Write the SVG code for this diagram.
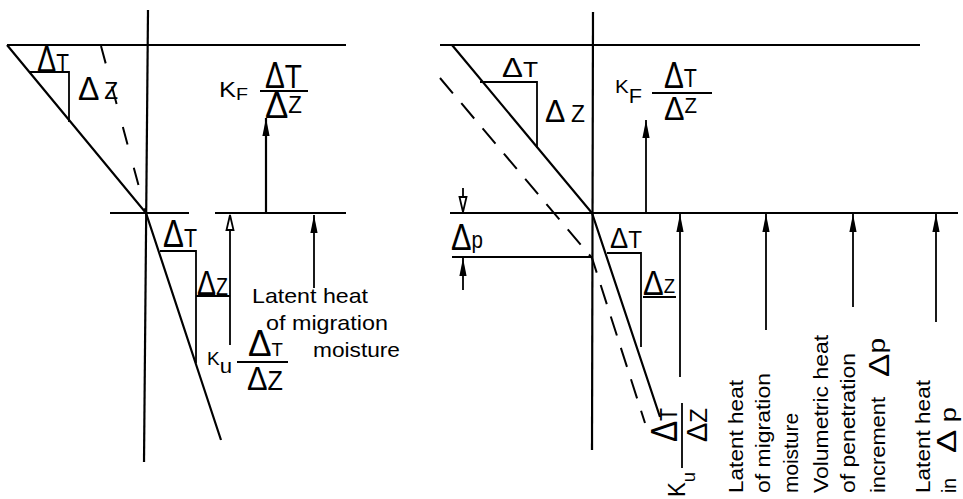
<svg xmlns="http://www.w3.org/2000/svg" width="963" height="499" viewBox="0 0 963 499">
<style>
.ln{stroke:#000;stroke-width:2.2;fill:none;stroke-linecap:butt}
.th{stroke:#000;stroke-width:1.8;fill:none}
.ds{stroke:#000;stroke-width:2;fill:none;stroke-dasharray:20 13}
.dsl{stroke:#000;stroke-width:2;fill:none;stroke-dasharray:18 24}
text{font-family:"Liberation Sans",Arial,sans-serif;fill:#000}
.lb{font-size:21px}
</style>
<defs>
<marker id="af" viewBox="-20 -4 20 8" refX="0" refY="0" markerWidth="20" markerHeight="8" orient="auto" markerUnits="userSpaceOnUse"><path d="M0,0 L-18,-3.6 L-18,3.6 Z" fill="#000"/></marker>
<marker id="ao" viewBox="-20 -5 21 10" refX="0" refY="0" markerWidth="21" markerHeight="10" orient="auto" markerUnits="userSpaceOnUse"><path d="M0,0 L-15,-3.5 L-15,3.5 Z" fill="#fff" stroke="#000" stroke-width="1.8"/></marker>
</defs>
<rect width="963" height="499" fill="#fff"/>

<g id="left-diagram">
  <g id="left-lines">
    <path class="ln" d="M7,45 H346"/>
    <path class="ln" d="M148,10 L144,462"/>
    <path class="ln" d="M7,45 L146,213 L221,440"/>
    <path class="th" d="M30,72 H69 V122"/>
    <path class="dsl" d="M101,46 L146,213"/>
    <path class="ln" d="M110,213 H189 M215,213 H346"/>
    <path class="th" d="M160,251 H196 V363"/>
    <path class="th" d="M196,296 H230"/>
    <path class="th" d="M237,362 H288"/>
    <path class="th" d="M260,91 H308"/>
  </g>
  <g id="left-arrows">
    <path class="ln" d="M266,213 V118" marker-end="url(#af)"/>
    <path class="th" d="M230,345 V215" marker-end="url(#ao)"/>
    <path class="th" d="M314,288 V215" marker-end="url(#af)"/>
  </g>
  <g id="left-labels">
    <text x="37" y="72" textLength="32" lengthAdjust="spacingAndGlyphs"><tspan font-size="36">Δ</tspan><tspan font-size="26">T</tspan></text>
    <text x="78" y="100" textLength="40" lengthAdjust="spacingAndGlyphs"><tspan font-size="34">Δ</tspan><tspan font-size="24" dx="5" dy="-1">Z</tspan></text>

    <text x="219" y="97" textLength="29" lengthAdjust="spacingAndGlyphs"><tspan font-size="22">K</tspan><tspan font-size="17" dy="3">F</tspan></text>
    <text x="265" y="88" textLength="37" lengthAdjust="spacingAndGlyphs"><tspan font-size="36">Δ</tspan><tspan font-size="34">T</tspan></text>
    <text x="265" y="118" textLength="37" lengthAdjust="spacingAndGlyphs"><tspan font-size="36">Δ</tspan><tspan font-size="23" dy="-5">Z</tspan></text>

    <text x="163" y="247" textLength="34" lengthAdjust="spacingAndGlyphs"><tspan font-size="38">Δ</tspan><tspan font-size="26">T</tspan></text>
    <text x="197" y="295" textLength="31" lengthAdjust="spacingAndGlyphs"><tspan font-size="35">Δ</tspan><tspan font-size="24">Z</tspan></text>

    <text x="207" y="365" textLength="25" lengthAdjust="spacingAndGlyphs"><tspan font-size="18">K</tspan><tspan font-size="21" dy="8">u</tspan></text>
    <text x="248" y="356" textLength="35" lengthAdjust="spacingAndGlyphs"><tspan font-size="36">Δ</tspan><tspan font-size="19">T</tspan></text>
    <text x="247" y="390" textLength="36" lengthAdjust="spacingAndGlyphs"><tspan font-size="33">Δ</tspan><tspan font-size="27">Z</tspan></text>

    <text class="lb" x="252" y="303" textLength="116" lengthAdjust="spacingAndGlyphs">Latent heat</text>
    <text class="lb" x="266" y="330" textLength="122" lengthAdjust="spacingAndGlyphs">of migration</text>
    <text class="lb" x="313" y="357" textLength="87" lengthAdjust="spacingAndGlyphs">moisture</text>
  </g>
</g>

<g id="right-diagram">
  <g id="right-lines">
    <path class="ln" d="M440,45 H920"/>
    <path class="ln" d="M593,12 L592,450"/>
    <path class="ln" d="M452,45 L592,213 L660,417"/>
    <path class="ds" d="M440,78 L592,258 L645,423"/>
    <path class="th" d="M480,82 H537 V148"/>
    <path class="ln" d="M450,213 H958"/>
    <path class="th" d="M452,257 H592"/>
    <path class="th" d="M607,253 H641 V347"/>
    <path class="th" d="M643,297 H676"/>
    <path class="th" d="M652,93 H712"/>
    <path class="th" d="M682,403 V468"/>
  </g>
  <g id="right-arrows">
    <path class="th" d="M463,188 V212" marker-end="url(#ao)"/>
    <path class="th" d="M463,290 V258" marker-end="url(#af)"/>
    <path class="th" d="M646,213 V120" marker-end="url(#af)"/>
    <path class="th" d="M680,377 V214" marker-end="url(#af)"/>
    <path class="th" d="M766,330 V214" marker-end="url(#af)"/>
    <path class="th" d="M853,307 V214" marker-end="url(#af)"/>
    <path class="th" d="M936,322 V214" marker-end="url(#af)"/>
  </g>
  <g id="right-labels">
    <text x="502" y="77" textLength="36" lengthAdjust="spacingAndGlyphs"><tspan font-size="28">Δ</tspan><tspan font-size="22">T</tspan></text>
    <text x="545" y="122" textLength="40" lengthAdjust="spacingAndGlyphs"><tspan font-size="32">Δ</tspan><tspan font-size="24" dx="6">Z</tspan></text>

    <text x="615" y="93" textLength="27" lengthAdjust="spacingAndGlyphs"><tspan font-size="19">K</tspan><tspan font-size="20" dy="10">F</tspan></text>
    <text x="664" y="88" textLength="33" lengthAdjust="spacingAndGlyphs"><tspan font-size="36">Δ</tspan><tspan font-size="26" dy="-1">T</tspan></text>
    <text x="664" y="120" textLength="33" lengthAdjust="spacingAndGlyphs"><tspan font-size="33">Δ</tspan><tspan font-size="22" dy="-7">Z</tspan></text>

    <text x="451" y="250" textLength="32" lengthAdjust="spacingAndGlyphs"><tspan font-size="36">Δ</tspan><tspan font-size="24" dy="-2">p</tspan></text>

    <text x="610" y="248" textLength="32" lengthAdjust="spacingAndGlyphs"><tspan font-size="29">Δ</tspan><tspan font-size="24">T</tspan></text>
    <text x="643" y="295" textLength="32" lengthAdjust="spacingAndGlyphs"><tspan font-size="35">Δ</tspan><tspan font-size="21" dy="-2">Z</tspan></text>

    <text transform="translate(685,497) rotate(-90)" textLength="25" lengthAdjust="spacingAndGlyphs"><tspan font-size="23">K</tspan><tspan font-size="19" dy="10">u</tspan></text>
    <text transform="translate(677,442) rotate(-90)" textLength="34" lengthAdjust="spacingAndGlyphs"><tspan font-size="36">Δ</tspan><tspan font-size="24">T</tspan></text>
    <text transform="translate(707,442) rotate(-90)" textLength="34" lengthAdjust="spacingAndGlyphs"><tspan font-size="29">Δ</tspan><tspan font-size="24">Z</tspan></text>

    <text class="lb" transform="translate(743,493) rotate(-90)" textLength="113" lengthAdjust="spacingAndGlyphs">Latent heat</text>
    <text class="lb" transform="translate(770,493) rotate(-90)" textLength="120" lengthAdjust="spacingAndGlyphs">of migration</text>
    <text class="lb" transform="translate(798,493) rotate(-90)" textLength="80" lengthAdjust="spacingAndGlyphs">moisture</text>
    <text class="lb" transform="translate(828,493) rotate(-90)" textLength="158" lengthAdjust="spacingAndGlyphs">Volumetric heat</text>
    <text class="lb" transform="translate(855,493) rotate(-90)" textLength="140" lengthAdjust="spacingAndGlyphs">of penetration</text>
    <text class="lb" transform="translate(885,493) rotate(-90)" textLength="96" lengthAdjust="spacingAndGlyphs">increment</text>
    <text transform="translate(889,377) rotate(-90)" textLength="39" lengthAdjust="spacingAndGlyphs"><tspan font-size="30">Δ</tspan><tspan font-size="24" dy="-4">p</tspan></text>
    <text class="lb" transform="translate(930,493) rotate(-90)" textLength="113" lengthAdjust="spacingAndGlyphs">Latent heat</text>
    <text class="lb" transform="translate(956,493) rotate(-90)" textLength="15" lengthAdjust="spacingAndGlyphs">in</text>
    <text transform="translate(956,453) rotate(-90)" textLength="46" lengthAdjust="spacingAndGlyphs"><tspan font-size="28">Δ</tspan><tspan font-size="22" dx="6">p</tspan></text>
  </g>
</g>
</svg>
